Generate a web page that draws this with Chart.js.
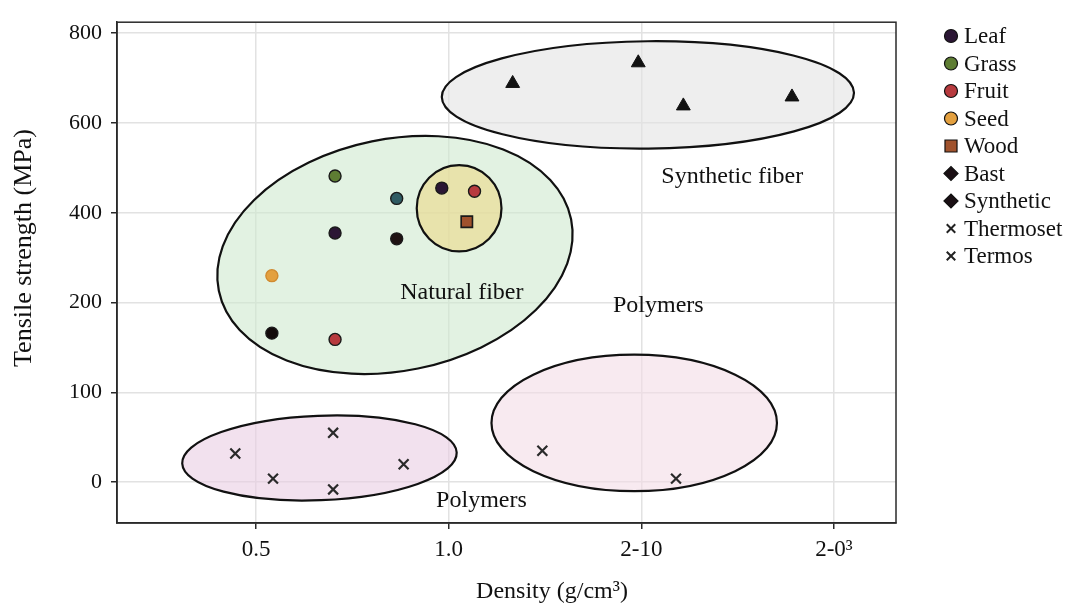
<!DOCTYPE html>
<html lang="en">

<head>
    <meta charset="UTF-8">
    <meta name="viewport" content="width=device-width, initial-scale=1.0">
    <title>Tensile strength vs density</title>
    <script src="https://cdn.jsdelivr.net/npm/chart.js"></script>
    <style>
        body { margin: 0; background: #fff; }
        #wrap { width: 1067px; height: 605px; position: relative; }
    </style>
</head>

<body>
    <div id="wrap">
        <canvas id="fiberChart"></canvas>
    </div>

    <script>
        // tick labels (the axes are evenly spaced, not linear in the printed values)
        const xTickValues = [0.5, 1.0, 1.5, 2.0];
        const xTickLabels = ['0.5', '1.0', '2-10', '2-0³'];
        const yTickValues = [0, 100, 200, 400, 600, 800];
        const yTickLabels = ['0', '100', '200', '400', '600', '800'];

        // points: density position, tensile strength (MPa)
        const leafX = [0.982, 0.705];
        const leafY = [455, 355];
        const grassX = [0.705];
        const grassY = [482];
        const fruitX = [1.067, 0.705];
        const fruitY = [448, 159];
        const seedX = [0.541];
        const seedY = [260];
        const woodX = [1.047];
        const woodY = [380];
        const bastX = [0.865, 0.865, 0.541];
        const bastY = [432, 342, 166];
        const syntheticX = [1.166, 1.492, 1.609, 1.891];
        const syntheticY = [688, 734, 638, 658];
        const thermosetX = [0.446, 0.544, 0.70, 0.70, 0.883];
        const thermosetY = [32, 4, 55, -8, 20];
        const termosX = [1.243, 1.59];
        const termosY = [35, 4];

        // group regions: x range, strength range (MPa), tilt
        const regionX0 = [0.982, 0.394, 0.917, 0.308, 1.111];
        const regionX1 = [2.052, 1.327, 1.137, 1.021, 1.852];
        const regionY0 = [543, 124, 314, -20, -10];
        const regionY1 = [782, 564, 506, 74, 142];
        const regionTilt = [-0.01, -0.2, 0, -0.04, 0];

        // region captions
        const captionText = ['Synthetic fiber', 'Natural fiber', 'Polymers', 'Polymers'];
        const captionX = [1.736, 1.034, 1.544, 1.085];
        const captionY = [480, 222, 196, -21];

        const legendLabels = ['Leaf', 'Grass', 'Fruit', 'Seed', 'Wood', 'Bast', 'Synthetic', 'Thermoset', 'Termos'];

        // MPa -> even tick position
        function yPos(v) {
            const t = yTickValues;
            if (v <= t[1]) return (v - t[0]) / (t[1] - t[0]);
            for (let i = 1; i < t.length - 1; i++) {
                if (v <= t[i + 1]) return i + (v - t[i]) / (t[i + 1] - t[i]);
            }
            const n = t.length - 1;
            return n + (v - t[n]) / (t[n] - t[n - 1]);
        }
        function pts(xs, ys) {
            return xs.map((x, i) => ({ x: x, y: yPos(ys[i]) }));
        }

        const serif = "'Liberation Serif', 'Times New Roman', serif";
        Chart.defaults.font.family = serif;
        Chart.defaults.color = '#1a1a1a';

        const fills = ['rgba(226,226,226,0.6)', 'rgba(206,233,206,0.6)', 'rgba(236,216,136,0.6)',
            'rgba(233,205,226,0.6)', 'rgba(243,220,230,0.6)'];

        const regionsPlugin = {
            id: 'regions',
            beforeDatasetsDraw(chart) {
                const ctx = chart.ctx, sx = chart.scales.x, sy = chart.scales.y;
                ctx.save();
                for (let i = 0; i < regionX0.length; i++) {
                    const a = sx.getPixelForValue(regionX0[i]), b = sx.getPixelForValue(regionX1[i]);
                    const c = sy.getPixelForValue(yPos(regionY0[i])), d = sy.getPixelForValue(yPos(regionY1[i]));
                    ctx.beginPath();
                    ctx.ellipse((a + b) / 2, (c + d) / 2, Math.abs(b - a) / 2, Math.abs(c - d) / 2, regionTilt[i], 0, Math.PI * 2);
                    ctx.fillStyle = fills[i];
                    ctx.fill();
                    ctx.lineWidth = 2.2;
                    ctx.strokeStyle = '#111';
                    ctx.stroke();
                }
                ctx.restore();
            },
            afterDatasetsDraw(chart) {
                const ctx = chart.ctx, sx = chart.scales.x, sy = chart.scales.y;
                ctx.save();
                ctx.font = '24px ' + serif;
                ctx.fillStyle = '#111';
                ctx.textAlign = 'center';
                ctx.textBaseline = 'middle';
                captionText.forEach((t, i) => {
                    ctx.fillText(t, sx.getPixelForValue(captionX[i]), sy.getPixelForValue(yPos(captionY[i])));
                });
                ctx.restore();
            },
            afterDraw(chart) {
                const ctx = chart.ctx, a = chart.chartArea;
                ctx.save();
                // frame
                ctx.strokeStyle = '#2a2a2a';
                ctx.lineWidth = 1.5;
                ctx.strokeRect(a.left, a.top, a.right - a.left, a.bottom - a.top);

                // axis titles
                ctx.fillStyle = '#111';
                ctx.textAlign = 'center';
                ctx.textBaseline = 'middle';
                ctx.font = '24px ' + serif;
                ctx.fillText('Density (g/cm³)', 552, 592);
                ctx.font = '26px ' + serif;
                ctx.translate(24, 248);
                ctx.rotate(-Math.PI / 2);
                ctx.fillText('Tensile strength (MPa)', 0, 0);
                ctx.restore();

                // legend
                const marks = [
                    { s: 'circle', r: 6.5, f: '#2b1634' }, { s: 'circle', r: 6.5, f: '#5e7d33' },
                    { s: 'circle', r: 6.5, f: '#b73a3e' }, { s: 'circle', r: 6.5, f: '#e3a03f' },
                    { s: 'rect', r: 8.5, f: '#a0522d' }, { s: 'rectRot', r: 7, f: '#1a0f14' },
                    { s: 'rectRot', r: 7, f: '#1a0f14' }, { s: 'crossRot', r: 6, f: '#222' },
                    { s: 'crossRot', r: 6, f: '#222' }
                ];
                ctx.save();
                ctx.font = '23px ' + serif;
                ctx.textAlign = 'left';
                ctx.textBaseline = 'middle';
                legendLabels.forEach((lab, i) => {
                    const y = 36 + i * 27.5;
                    const m = marks[i];
                    ctx.fillStyle = m.f;
                    ctx.strokeStyle = m.s === 'crossRot' ? '#222' : '#111';
                    ctx.lineWidth = m.s === 'crossRot' ? 2 : 1.2;
                    Chart.helpers.drawPoint(ctx, { pointStyle: m.s, radius: m.r, rotation: 0, borderWidth: ctx.lineWidth }, 951, y);
                    ctx.fillStyle = '#111';
                    ctx.fillText(lab, 964, y + 1);
                });
                ctx.restore();
            }
        };

        const dot = { pointRadius: 6, pointBorderWidth: 1.4, pointBorderColor: '#1a1a1a', showLine: false };
        const cross = { pointStyle: 'crossRot', pointRadius: 7, pointBorderWidth: 2.2, pointBorderColor: '#2a2a2a', showLine: false };

        const ctx = document.getElementById('fiberChart').getContext('2d');
        const fiberChart = new Chart(ctx, {
            type: 'scatter',
            data: {
                datasets: [
                    { label: 'Leaf', data: pts(leafX, leafY), pointBackgroundColor: '#2b1634', ...dot },
                    { label: 'Grass', data: pts(grassX, grassY), pointBackgroundColor: '#5e7d33', ...dot },
                    { label: 'Fruit', data: pts(fruitX, fruitY), pointBackgroundColor: '#b73a3e', ...dot },
                    { label: 'Seed', data: pts(seedX, seedY), pointBackgroundColor: '#e3a03f', ...dot, pointBorderColor: '#d08a30' },
                    { label: 'Wood', data: pts(woodX, woodY), pointStyle: 'rect', pointRadius: 8, pointBackgroundColor: '#a0522d', pointBorderColor: '#1a1a1a', pointBorderWidth: 1.6 },
                    { label: 'Bast', data: pts(bastX, bastY), pointBackgroundColor: ['#2f5b63', '#1e1212', '#120a0a'], ...dot },
                    { label: 'Synthetic', data: pts(syntheticX, syntheticY), pointStyle: 'triangle', pointRadius: 8, pointBackgroundColor: '#111', pointBorderColor: '#111', pointBorderWidth: 1 },
                    { label: 'Thermoset', data: pts(thermosetX, thermosetY), ...cross },
                    { label: 'Termos', data: pts(termosX, termosY), ...cross }
                ]
            },
            options: {
                responsive: true,
                maintainAspectRatio: false,
                animation: false,
                layout: { padding: { top: 17, right: 171, left: 0, bottom: 0 } },
                plugins: { legend: { display: false }, tooltip: { enabled: false } },
                scales: {
                    x: {
                        type: 'linear',
                        min: 0.139,
                        max: 2.161,
                        afterBuildTicks: s => { s.ticks = xTickValues.map(v => ({ value: v })); },
                        afterFit: s => { s.height = 82; },
                        ticks: {
                            callback: (v) => xTickLabels[xTickValues.indexOf(v)],
                            font: { size: 23 },
                            color: '#111',
                            padding: 7,
                            maxRotation: 0
                        },
                        grid: { color: '#e2e2e2', lineWidth: 1.5, tickColor: '#2a2a2a', tickLength: 6, tickWidth: 1.5 },
                        border: { display: true, color: '#2a2a2a', width: 1.5 }
                    },
                    y: {
                        type: 'linear',
                        min: -0.454,
                        max: 5.122,
                        afterBuildTicks: s => { s.ticks = yTickLabels.map((_, i) => ({ value: i })); },
                        afterFit: s => { s.width = 117; },
                        ticks: {
                            callback: (v) => yTickLabels[v],
                            font: { size: 22 },
                            color: '#111',
                            padding: 9
                        },
                        grid: { color: '#e2e2e2', lineWidth: 1.5, tickColor: '#2a2a2a', tickLength: 6, tickWidth: 1.5 },
                        border: { display: true, color: '#2a2a2a', width: 1.5 }
                    }
                }
            },
            plugins: [regionsPlugin]
        });
    </script>
</body>

</html>
